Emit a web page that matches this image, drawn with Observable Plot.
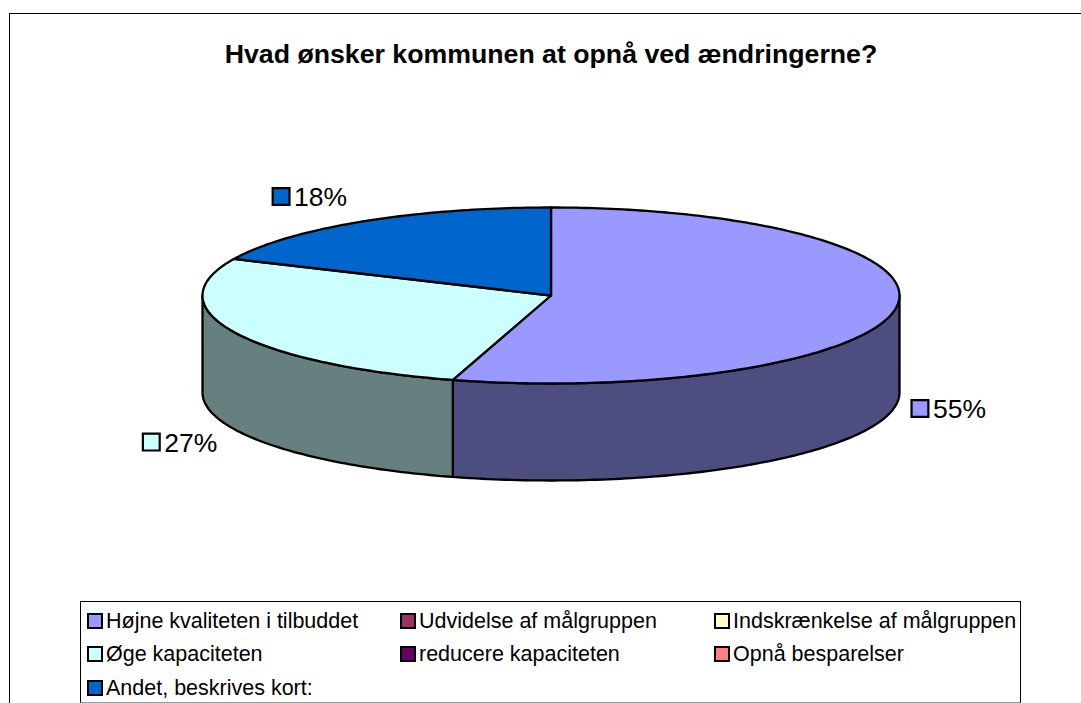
<!DOCTYPE html>
<html lang="da">
<head>
<meta charset="utf-8">
<script src="https://cdn.jsdelivr.net/npm/d3@7"></script>
<script src="https://cdn.jsdelivr.net/npm/@observablehq/plot@0.6"></script>
<style>
  html, body { margin: 0; padding: 0; background: #fff; overflow: hidden; }
  #page { position: relative; width: 1081px; height: 703px; overflow: hidden; font-family: "Liberation Sans", Arial, sans-serif; color: #000; }
  #frame { position: absolute; left: 9px; top: 13px; right: 0; bottom: 0; border-left: 1px solid #000; border-top: 1px solid #000; z-index: 1; pointer-events: none; }
  #title { position: absolute; left: 0; width: 1102px; top: 39px; text-align: center; font-weight: bold; font-size: 26.7px; line-height: 30px; z-index: 2; white-space: nowrap; }
  #legend { position: absolute; left: 80px; top: 601px; width: 939px; height: 100px; border: 1px solid #000; border-bottom-color: #999; background: #fff; z-index: 2; }
  .item { position: absolute; display: flex; align-items: center; height: 24px; font-size: 21.5px; white-space: nowrap; }
  .swatch { box-sizing: border-box; width: 16px; height: 16px; border: 2px solid #000; margin-right: 3px; flex: none; }
  #chart { position: absolute; left: 0; top: 0; }
  #chart svg { display: block; }
</style>
</head>
<body>
<div id="page">
  <div id="chart"></div>
  <div id="frame"></div>
  <div id="title"></div>
  <div id="legend"></div>
</div>
<script>
const titleText = "Hvad ønsker kommunen at opnå ved ændringerne?";
const categories = ["Højne kvaliteten i tilbuddet", "Udvidelse af målgruppen", "Indskrænkelse af målgruppen", "Øge kapaciteten", "reducere kapaciteten", "Opnå besparelser", "Andet, beskrives kort:"];
const counts = [6, 0, 0, 3, 0, 0, 2];
const topColors = ["#9999FF", "#993366", "#FFFFCC", "#CCFFFF", "#660066", "#FF8080", "#0066CC"];
const sideColors = ["#4D4D80", "#4D1A33", "#808066", "#668080", "#330033", "#804040", "#003366"];
// pixel nudges of each outside label from its slice's rim midpoint
const labelNudge = {0: [24, 100.5], 3: [-82.7, 110], 6: [-81.5, -25]};

const depth = 97 / 88; // cylinder height in units of the vertical radius
const total = d3.sum(counts);
let acc = 0;
const slices = counts.map((v, i) => {
  const s = {i, v, t0: acc / total, t1: (acc + v) / total};
  acc += v;
  return s;
});
const rim = (t, drop = 0) => ({x: Math.sin(2 * Math.PI * t), y: Math.cos(2 * Math.PI * t) - drop});
const arc = (a, b, drop = 0) => {
  const n = Math.max(2, Math.ceil((b - a) * 360));
  return d3.range(n + 1).map((k) => rim(a + (b - a) * k / n, drop));
};

const shape = {stroke: "#000", strokeWidth: 2.3, strokeLinejoin: "round", x: "x", y: "y"};
const marks = [];
// visible outer walls: the front half of the cylinder, t in [.25, .75]
for (const s of slices) {
  const a = Math.max(s.t0, 0.25), b = Math.min(s.t1, 0.75);
  if (s.v === 0 || b <= a) continue;
  const top = arc(a, b), bottom = arc(a, b, depth).reverse();
  marks.push(Plot.line([...top, ...bottom, top[0]], {...shape, fill: sideColors[s.i]}));
}
// top faces
for (const s of slices) {
  if (s.v === 0) continue;
  const c = {x: 0, y: 0};
  marks.push(Plot.line([c, ...arc(s.t0, s.t1), c], {...shape, fill: topColors[s.i]}));
}
// outside data labels
for (const s of slices) {
  if (s.v === 0) continue;
  const p = rim((s.t0 + s.t1) / 2), [dx, dy] = labelNudge[s.i];
  marks.push(Plot.dot([p], {x: "x", y: "y", dx, dy, symbol: "square", r: 9.5, fill: topColors[s.i], stroke: "#000", strokeWidth: 2.2}));
  marks.push(Plot.text([p], {x: "x", y: "y", dx: dx + 13, dy: dy + 1, text: () => Math.round(s.v / total * 100) + "%", textAnchor: "start", lineAnchor: "middle", fontSize: 26.5, fontFamily: "Liberation Sans, Arial, sans-serif", fill: "#000"}));
}

const plot = Plot.plot({
  width: 1081,
  height: 703,
  marginLeft: 202,
  marginRight: 182,
  marginTop: 207,
  marginBottom: 320,
  x: {domain: [-1, 1], axis: null},
  y: {domain: [-1, 1], axis: null},
  style: {background: "transparent", overflow: "visible"},
  marks
});
document.getElementById("chart").appendChild(plot);

document.getElementById("title").textContent = titleText;
const legend = document.getElementById("legend");
const colX = [6, 319, 633], rowY = [7, 40, 74];
categories.forEach((name, i) => {
  const el = document.createElement("div");
  el.className = "item";
  el.style.left = colX[i % 3] + "px";
  el.style.top = rowY[Math.floor(i / 3)] + "px";
  const sw = document.createElement("span");
  sw.className = "swatch";
  sw.style.background = topColors[i];
  el.append(sw, document.createTextNode(name));
  legend.appendChild(el);
});
</script>
</body>
</html>
